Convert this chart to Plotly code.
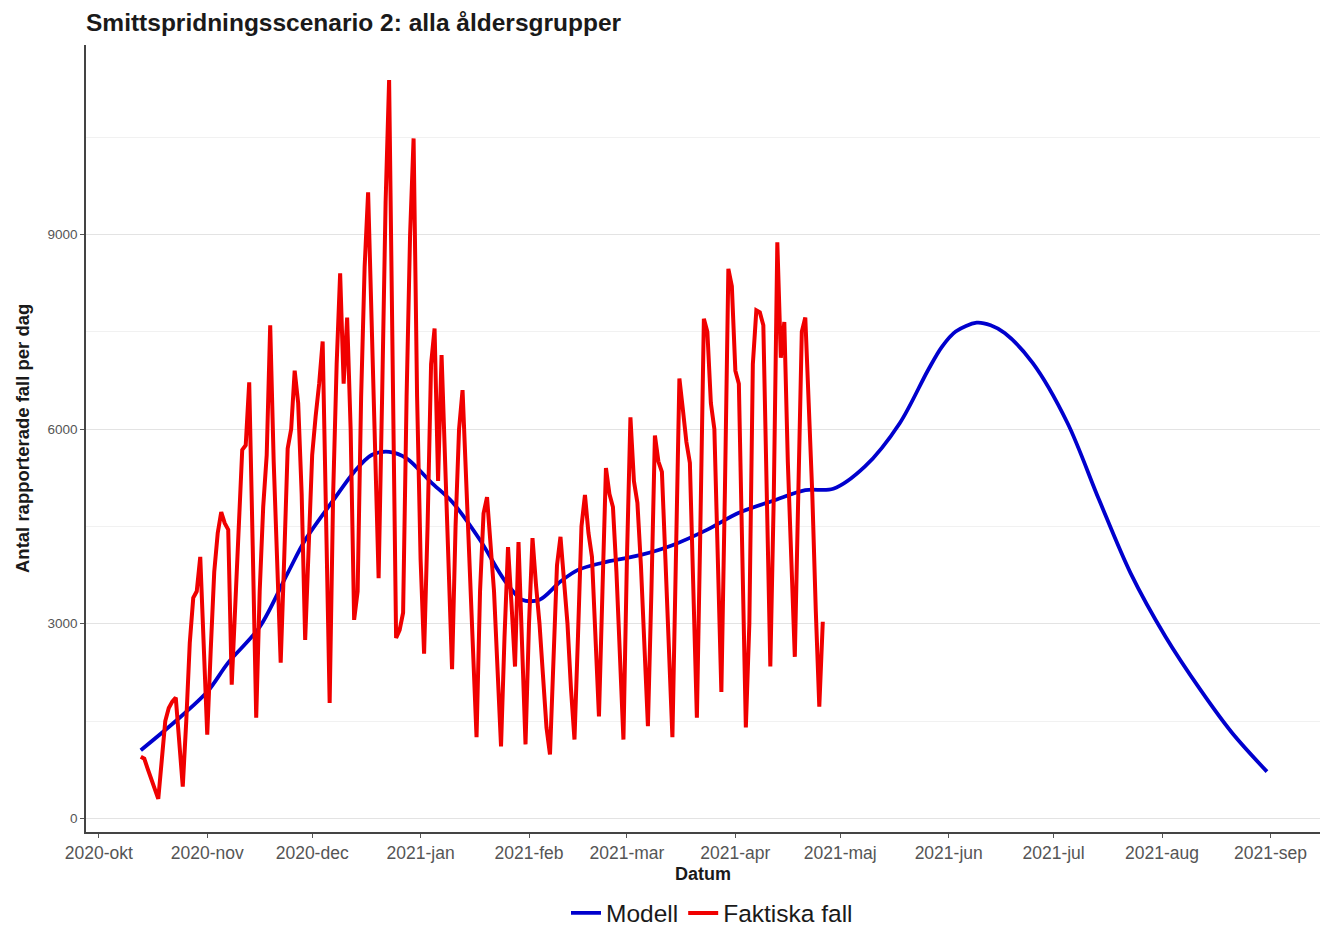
import pandas as pd
import plotly.graph_objects as go

# ---------------- data ----------------
faktiska_start = "2020-10-13"
faktiska_fall = [
    950, 920, 760, 600, 440, 300,
    900, 1500, 1700, 1800, 1860, 1100, 490,
    1500, 2700, 3400, 3500, 4030, 2700, 1290,
    2600, 3800, 4400, 4720, 4550, 4450, 2060,
    3200, 4500, 5680, 5750, 6720, 4200, 1550,
    3500, 4800, 5600, 7600, 5500, 4000, 2400,
    4000, 5700, 6000, 6900, 6400, 5000, 2750,
    4200, 5600, 6200, 6700, 7350, 4500, 1780,
    5000, 7000, 8400, 6700, 7720, 6000, 3060,
    3500, 6500, 8500, 9650, 7800, 5800, 3700,
    6500, 9500, 11380, 7000, 2780, 2900, 3170,
    6500, 9000, 10480, 6500, 4000, 2540,
    4500, 7000, 7550, 5200, 7140, 5500, 3800, 2300,
    4500, 6000, 6600, 5200, 4000, 2500, 1250,
    3500, 4700, 4950, 4200, 3500, 2300, 1110,
    2800, 4180, 3300, 2340, 4260, 2600, 1140,
    3000, 4320, 3600, 3000, 2200, 1400, 985,
    2500, 3900, 4340, 3600, 3000, 2000, 1215,
    2800, 4500, 4985, 4400, 4030, 2800, 1570,
    3500, 5400, 5000, 4800, 3800, 2500, 1215,
    4000, 6180, 5200, 4860, 3900, 2600, 1420,
    3500, 5900, 5500, 5340, 4000, 2500, 1250,
    4000, 6780, 6300, 5800, 5480, 3500, 1550,
    4500, 7700, 7500, 6400, 6000, 4000, 1950,
    5000, 8470, 8200, 6900, 6700, 4000, 1400,
    3000, 7000, 7830, 7800, 7600, 5000, 2340,
    5000, 8880, 7100, 7650, 5500, 4000, 2490,
    5000, 7500, 7720, 6500, 5000, 3200, 1720, 3030,
]

modell_datum = [
    "2020-10-13", "2020-10-23", "2020-11-01", "2020-11-07", "2020-11-16",
    "2020-11-24", "2020-11-29", "2020-12-07", "2020-12-13", "2020-12-18",
    "2020-12-23", "2020-12-28", "2021-01-04", "2021-01-10", "2021-01-18",
    "2021-01-25", "2021-01-30", "2021-02-04", "2021-02-10", "2021-02-15",
    "2021-02-22", "2021-03-05", "2021-03-14", "2021-03-24", "2021-04-02",
    "2021-04-12", "2021-04-21", "2021-04-29", "2021-05-08", "2021-05-18",
    "2021-05-26", "2021-05-30", "2021-06-03", "2021-06-09", "2021-06-13",
    "2021-06-17", "2021-06-25",
    "2021-07-05", "2021-07-14", "2021-07-23", "2021-08-02", "2021-08-12",
    "2021-08-21", "2021-08-31",
]
modell_varde = [
    1050, 1500, 1950, 2400, 2950,
    3780, 4290, 4900, 5340, 5600,
    5650, 5550, 5180, 4880, 4290,
    3670, 3370, 3370, 3650, 3830,
    3940, 4060, 4210, 4450, 4710,
    4900, 5060, 5080, 5420, 6090,
    6900, 7265, 7505, 7640, 7600,
    7480, 7020,
    6090, 4910, 3780, 2800, 1980,
    1320, 720,
]

manad_tick = [
    "2020-10-01", "2020-11-01", "2020-12-01", "2021-01-01", "2021-02-01",
    "2021-03-01", "2021-04-01", "2021-05-01", "2021-06-01", "2021-07-01",
    "2021-08-01", "2021-09-01",
]
manad_text = [
    "2020-okt", "2020-nov", "2020-dec", "2021-jan", "2021-feb", "2021-mar",
    "2021-apr", "2021-maj", "2021-jun", "2021-jul", "2021-aug", "2021-sep",
]
y_tick = [0, 3000, 6000, 9000]
y_minor = [1500, 4500, 7500, 10500]

titel = "Smittspridningsscenario 2: alla åldersgrupper"
x_titel = "Datum"
y_titel = "Antal rapporterade fall per dag"

# ---------------- figure ----------------
faktiska_datum = pd.date_range(start=faktiska_start, periods=len(faktiska_fall), freq="D")

FONT = "Liberation Sans, Arial, sans-serif"
BLUE = "#0000CD"
RED = "#F00000"

fig = go.Figure()
fig.add_trace(go.Scatter(
    x=modell_datum, y=modell_varde, mode="lines", name="Modell",
    line=dict(color=BLUE, width=3.8, shape="spline", smoothing=0.9),
))
fig.add_trace(go.Scatter(
    x=faktiska_datum, y=faktiska_fall, mode="lines", name="Faktiska fall",
    line=dict(color=RED, width=4),
))

W, H = 1321, 931
L, R, T, B = 86, 1, 45, 99
PH = H - T - B
PW = W - L - R

fig.update_layout(
    width=W, height=H,
    margin=dict(l=L, r=R, t=T, b=B, autoexpand=False),
    paper_bgcolor="white", plot_bgcolor="white",
    font=dict(family=FONT, color="#4d4d4d"),
    title=dict(
        text="<b>" + titel + "</b>",
        font=dict(family=FONT, size=24.5, color="#1a1a1a"),
        x=L / W, xanchor="left", xref="container",
        y=1 - 22 / H, yanchor="middle", yref="container",
    ),
    showlegend=True,
    legend=dict(
        orientation="h", x=0.5 + 9 / PW, xanchor="center",
        yref="container", y=1 - 913 / H, yanchor="middle",
        font=dict(family=FONT, size=24.5, color="#1a1a1a"),
        itemwidth=30,
    ),
    xaxis=dict(
        type="date",
        range=["2020-09-27 08:00", "2021-09-15 04:00"],
        tickmode="array", tickvals=manad_tick, ticktext=manad_text,
        showgrid=False, zeroline=False,
        showline=True, linecolor="#444444", linewidth=1.6,
        ticks="outside", ticklen=4, tickcolor="#555555", tickwidth=1.2,
        tickfont=dict(family=FONT, size=17.5, color="#555555"),
    ),
    yaxis=dict(
        range=[-210, 11920],
        tickmode="array", tickvals=y_tick,
        showgrid=True, gridcolor="#e3e3e3", gridwidth=1.2,
        minor=dict(tickmode="array", tickvals=y_minor,
                   showgrid=True, gridcolor="#f1f1f1", gridwidth=1),
        zeroline=False,
        showline=True, linecolor="#444444", linewidth=1.6,
        ticks="outside", ticklen=4, tickcolor="#555555", tickwidth=1.2,
        tickfont=dict(family=FONT, size=13.5, color="#555555"),
    ),
    annotations=[
        dict(text="<b>" + x_titel + "</b>", xref="paper", yref="paper",
             x=0.5, y=-(874 - 832) / PH, xanchor="center", yanchor="middle",
             showarrow=False, font=dict(family=FONT, size=18, color="#1a1a1a")),
        dict(text="<b>" + y_titel + "</b>", xref="paper", yref="paper",
             x=(22 - L) / PW, y=(832 - 439) / PH,
             xanchor="center", yanchor="middle", textangle=-90,
             showarrow=False, font=dict(family=FONT, size=18.5, color="#1a1a1a")),
    ],
)

fig.write_html(
    "out.html",
    config={"displayModeBar": False},
    post_script="document.body.style.margin='0';document.body.style.overflow='hidden';",
)
